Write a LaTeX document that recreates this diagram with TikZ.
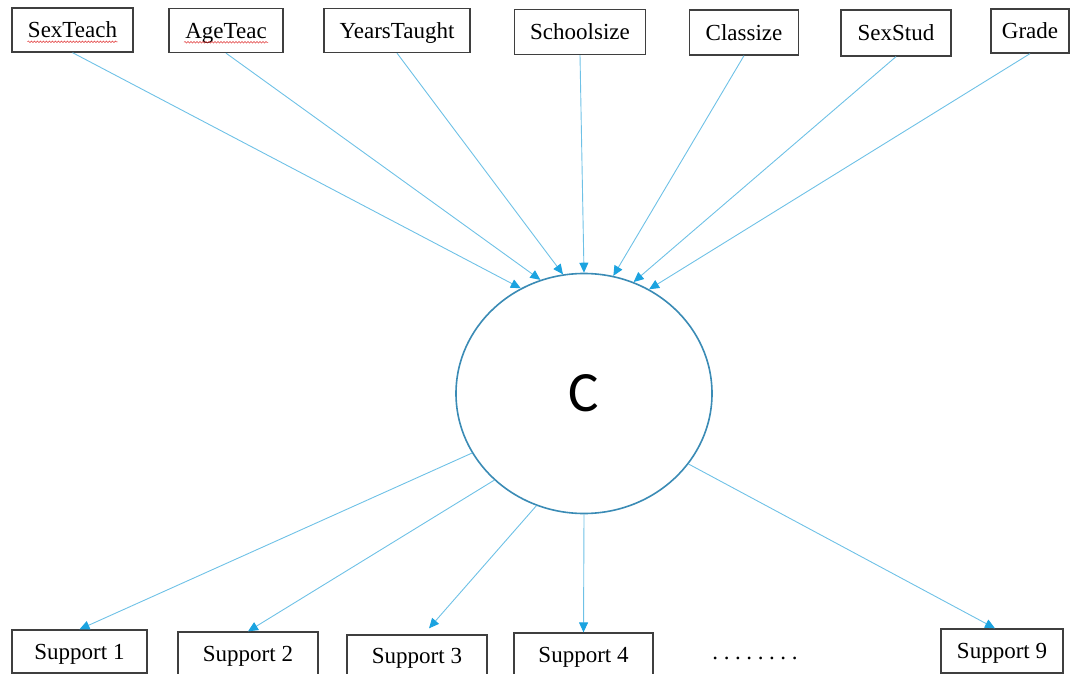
\documentclass[tikz,border=0pt]{standalone}
\usepackage{fontspec}
\setmainfont{Liberation Serif}
\newfontfamily\calib{Carlito}
\usetikzlibrary{arrows.meta,shapes.geometric,calc,decorations.pathmorphing}
\definecolor{linkblue}{HTML}{6EC1E6}
\definecolor{tipblue}{HTML}{1BA3E0}
\definecolor{ringblue}{HTML}{3A8BB5}
\definecolor{boxgray}{HTML}{3F3F3F}
\definecolor{spellred}{HTML}{E03030}
\tikzset{
  varbox/.style={draw=boxgray,line width=1.3pt,fill=white,inner sep=0pt,
    font=\fontsize{23}{25}\selectfont,text height=15.2pt,text depth=0pt},
  link/.style={draw=linkblue,line width=0.9pt,
    -{Triangle[length=10pt,width=9pt,color=tipblue]}},
  squiggle/.style={draw=spellred,line width=0.5pt,
    decorate,decoration={snake,amplitude=0.8pt,segment length=3pt}}
}
\begin{document}
\begin{tikzpicture}[x=1pt,y=-1pt]
\useasboundingbox (0,0) rectangle (1070,674);
% top boxes
\node[varbox,minimum width=121pt,minimum height=44pt] (t1) at (72.5,30) {SexTeach};
\node[varbox,minimum width=114pt,minimum height=44pt] (t2) at (226,30.5) {AgeTeac};
\node[varbox,minimum width=146pt,minimum height=44pt] (t3) at (397,30.5) {YearsTaught};
\node[varbox,minimum width=131pt,minimum height=45pt] (t4) at (580,32) {Schoolsize};
\node[varbox,minimum width=109pt,minimum height=45pt] (t5) at (744,32.5) {Classize};
\node[varbox,minimum width=110pt,minimum height=46pt] (t6) at (896,33) {SexStud};
\node[varbox,minimum width=78pt,minimum height=44pt] (t7) at (1030,31) {Grade};
% spell-check underlines
\draw[squiggle] ($(t1.center)+(-45,11.8)$) coordinate (sq1a) -- ($(t1.center)+(45,11.8)$) coordinate (sq1b);
\draw[squiggle] ($(t2.center)+(-42,11.8)$) coordinate (sq2a) -- ($(t2.center)+(42,11.8)$) coordinate (sq2b);
% central latent variable
\node[ellipse,draw=ringblue,line width=1.6pt,fill=white,minimum width=256pt,
  minimum height=240pt,inner sep=0pt,font=\calib\fontsize{57}{60}\selectfont]
  (C) at (584,393.5) {C};
% bottom boxes
\node[varbox,minimum width=135pt,minimum height=43pt] (s1) at (79.5,651.5) {Support 1};
\node[varbox,minimum width=140pt,minimum height=44pt] (s2) at (248,654) {Support 2};
\node[varbox,minimum width=140pt,minimum height=42pt] (s3) at (417,656) {Support 3};
\node[varbox,minimum width=139pt,minimum height=43pt] (s4) at (583.5,654.5) {Support 4};
\node[font=\fontsize{23}{25}\selectfont,inner sep=0pt,text height=15.2pt,text depth=0pt]
  (dots) at (755,652) {.\hspace{5.6pt}.\hspace{5.6pt}.\hspace{5.6pt}.\hspace{5.6pt}.\hspace{5.6pt}.\hspace{5.6pt}.\hspace{5.6pt}.};
\node[varbox,minimum width=122pt,minimum height=44pt] (s9) at (1002,651) {Support 9};
% incoming paths
\draw[link] (t1.south) -- (C.121);
\draw[link] (t2.south) -- (C.111.5);
\draw[link] (t3.south) -- (C.100);
\draw[link] (t4.south) -- (C.90);
\draw[link] (t5.south) -- (C.76);
\draw[link] (t6.south) -- (C.66);
\draw[link] (t7.south) -- (C.58);
% outgoing paths
\draw[link] (C.208) -- (s1.north);
\draw[link] (C.224) -- (s2.north);
\draw[link] (C.247) -- ($(s3.north)+(12,-6)$);
\draw[link] (C.270) -- (s4.north);
\draw[link] (C.326) -- ($(s9.north)+(-7,0)$);
\end{tikzpicture}
\end{document}
